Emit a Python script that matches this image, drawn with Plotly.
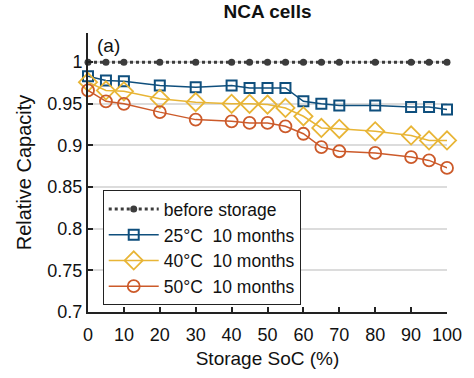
import plotly.graph_objects as go

soc = [0, 5, 10, 20, 30, 40, 45, 50, 55, 60, 65, 70, 80, 90, 95, 100]
before = [1.0] * len(soc)
t25 = [0.983, 0.978, 0.977, 0.972, 0.970, 0.972, 0.969, 0.969, 0.969, 0.953, 0.950, 0.948, 0.948, 0.946, 0.946, 0.943]
t40 = [0.976, 0.966, 0.965, 0.956, 0.952, 0.950, 0.950, 0.949, 0.945, 0.935, 0.921, 0.920, 0.917, 0.912, 0.906, 0.906]
t50 = [0.966, 0.953, 0.950, 0.940, 0.931, 0.929, 0.927, 0.927, 0.923, 0.914, 0.898, 0.893, 0.891, 0.886, 0.882, 0.873]

names = ["before storage", "25°C  10 months", "40°C  10 months", "50°C  10 months"]
title = "NCA cells"
xtitle = "Storage SoC (%)"
ytitle = "Relative Capacity"
ytickvals = [0.7, 0.75, 0.8, 0.85, 0.9, 0.95, 1]
yticktext = ["0.7", "0.75", "0.8", "0.85", "0.9", "0.95", "1"]
xtickvals = list(range(0, 101, 10))

font = "Liberation Sans, Arial, sans-serif"

fig = go.Figure()
fig.add_trace(go.Scatter(x=soc, y=before, name=names[0], mode="lines+markers", cliponaxis=False,
                         line=dict(color="#3c3c3c", width=3, dash="dot"),
                         marker=dict(symbol="circle", size=7, color="#3c3c3c")))
fig.add_trace(go.Scatter(x=soc, y=t25, name=names[1], mode="lines+markers", cliponaxis=False,
                         line=dict(color="#0f4f7d", width=1.5),
                         marker=dict(symbol="square-open", size=10, color="#0f4f7d", line=dict(width=2))))
fig.add_trace(go.Scatter(x=soc, y=t40, name=names[2], mode="lines+markers", cliponaxis=False,
                         line=dict(color="#e8b536", width=1.5),
                         marker=dict(symbol="diamond-open", size=14, color="#e8b536", line=dict(width=1.8))))
fig.add_trace(go.Scatter(x=soc, y=t50, name=names[3], mode="lines+markers", cliponaxis=False,
                         line=dict(color="#cc5a2a", width=1.5),
                         marker=dict(symbol="circle-open", size=12, color="#cc5a2a", line=dict(width=1.8))))

fig.update_layout(
    width=474, height=378,
    margin=dict(l=88, r=23, t=33, b=66),
    paper_bgcolor="white", plot_bgcolor="white",
    font=dict(family=font, size=18, color="#111"),
    title=dict(text="<b>" + title + "</b>", x=0.5, xref="paper", xanchor="center",
               y=0.987, yref="container", yanchor="top", pad=dict(t=0, b=0),
               font=dict(size=19, color="#111")),
    showlegend=True,
    legend=dict(x=0.041, y=0.437, xanchor="left", yanchor="top",
                bgcolor="white", bordercolor="#222", borderwidth=1, itemwidth=50,
                font=dict(size=17.5, color="#111"), tracegroupgap=0),
    annotations=[dict(text="(a)", xref="paper", yref="paper", x=0.02, y=1.0,
                      xanchor="left", yanchor="top", showarrow=False, font=dict(size=19, color="#111"))],
)
fig.update_xaxes(range=[0, 100], tickvals=xtickvals, ticks="inside", ticklen=5, tickwidth=1.5,
                 tickcolor="#222", showline=True, linecolor="#222", linewidth=2, ticklabelstandoff=5,
                 showgrid=False, zeroline=False, title=dict(text=xtitle, font=dict(size=19), standoff=8),
                 tickfont=dict(size=18))
fig.update_yaxes(range=[0.7, 1.035], tickvals=ytickvals, ticktext=yticktext, ticks="inside", ticklen=5,
                 tickwidth=1.5, tickcolor="#222", showline=True, linecolor="#222", linewidth=2,
                 showgrid=True, gridcolor="#dcdcdc", gridwidth=1.5, zeroline=False,
                 title=dict(text=ytitle, font=dict(size=20), standoff=10), tickfont=dict(size=18))

fig.write_html("out.html", config={"displayModeBar": False},
               post_script="document.body.style.margin='0';")
